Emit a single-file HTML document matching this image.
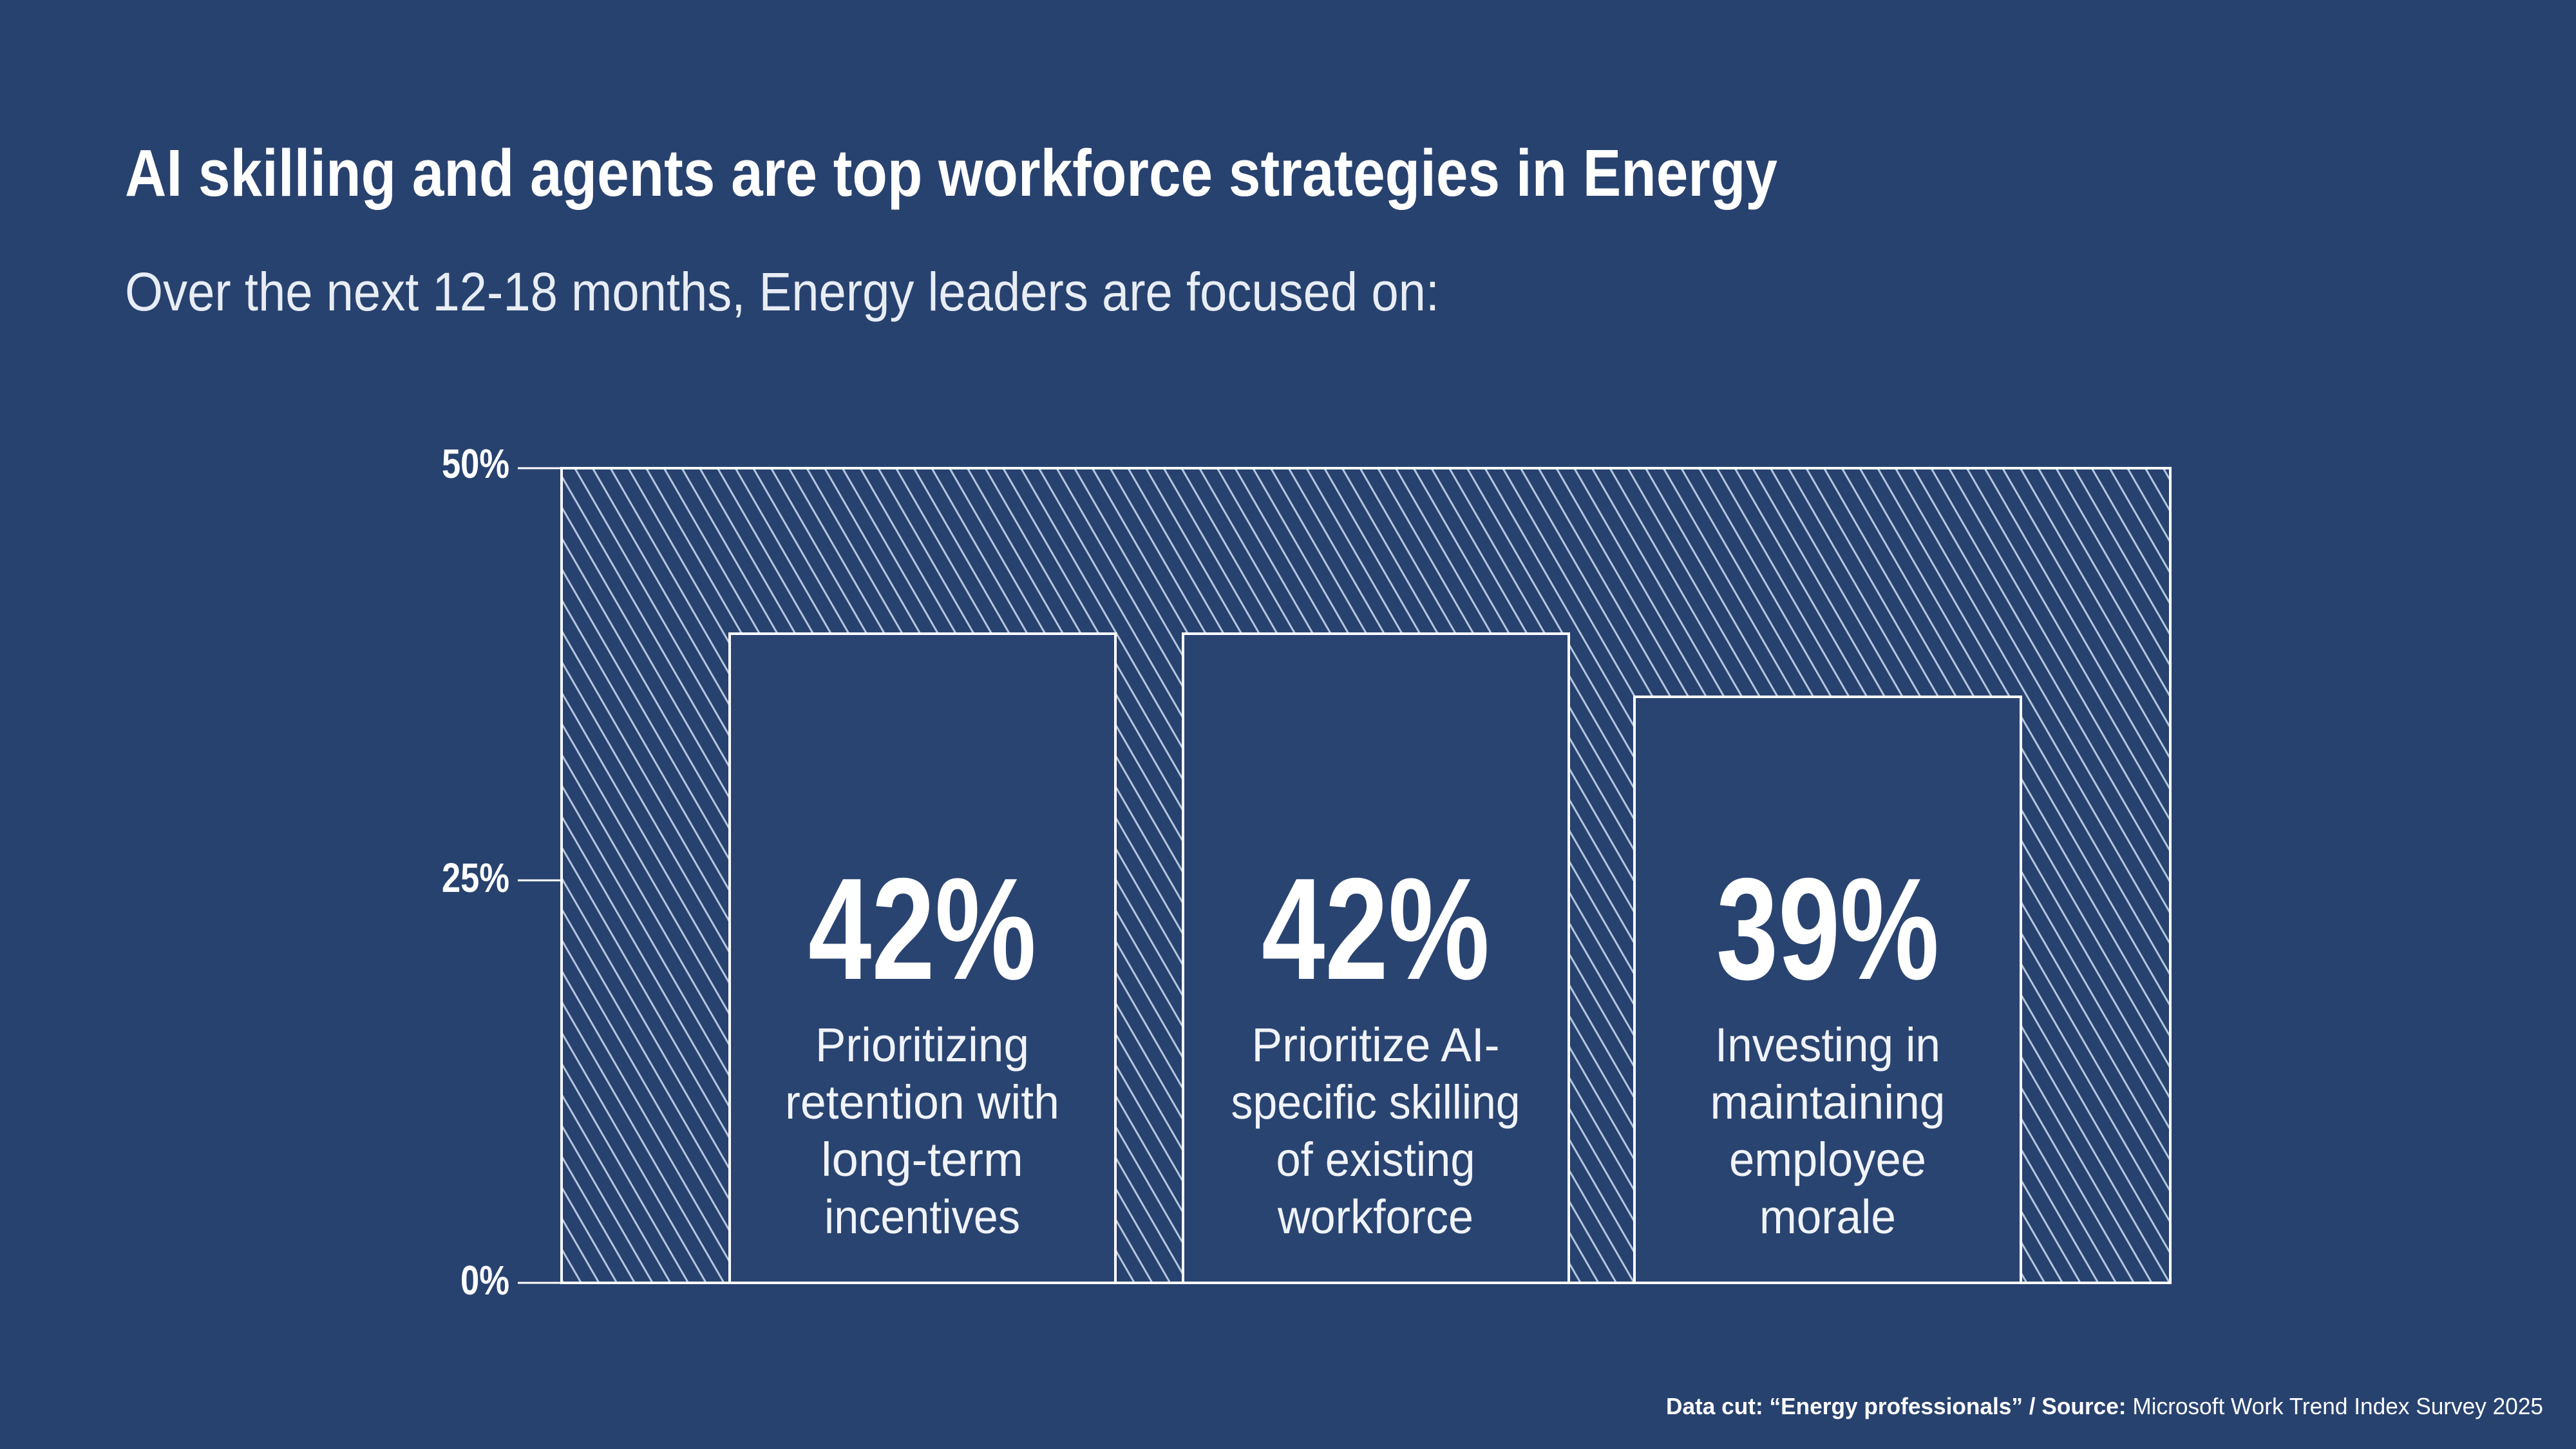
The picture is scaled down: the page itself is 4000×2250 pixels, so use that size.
<!DOCTYPE html>
<html><head><meta charset="utf-8"><style>
html,body{margin:0;padding:0;background:#28426f;}
svg{display:block}
</style></head><body>
<svg width="4000" height="2250" viewBox="0 0 4000 2250" xmlns="http://www.w3.org/2000/svg">
<defs>
<pattern id="h" width="24" height="24" patternUnits="userSpaceOnUse" patternTransform="rotate(-30)">
<rect x="0" y="0" width="3" height="24" fill="#b4c4dc"/>
</pattern>
</defs>
<rect width="4000" height="2250" fill="#28426f"/>
<g fill="#fff" font-family="Liberation Sans, sans-serif">
<text x="194" y="304" font-size="103" font-weight="bold" textLength="2566" lengthAdjust="spacingAndGlyphs">AI skilling and agents are top workforce strategies in Energy</text>
<text x="194" y="482" font-size="84" textLength="2041" lengthAdjust="spacingAndGlyphs" fill="#e8edf5">Over the next 12-18 months, Energy leaders are focused on:</text>
<g font-size="64" font-weight="bold" text-anchor="end">
<text x="791" y="742" textLength="105" lengthAdjust="spacingAndGlyphs">50%</text>
<text x="791" y="1385" textLength="105" lengthAdjust="spacingAndGlyphs">25%</text>
<text x="791" y="2010" textLength="76" lengthAdjust="spacingAndGlyphs">0%</text>
</g>
</g>
<g stroke="#fff" stroke-width="3">
<line x1="804" y1="727" x2="872" y2="727"/>
<line x1="804" y1="1367" x2="872" y2="1367"/>
<line x1="804" y1="1992" x2="872" y2="1992"/>
</g>
<rect x="872" y="727" width="2498" height="1265" fill="url(#h)" stroke="#fff" stroke-width="4"/>
<g fill="#2a4471" stroke="#fff" stroke-width="4">
<rect x="1133" y="984" width="599" height="1008"/>
<rect x="1837" y="984" width="599" height="1008"/>
<rect x="2538" y="1082" width="600" height="910"/>
</g>
<g fill="#fff" font-family="Liberation Sans, sans-serif" text-anchor="middle">
<g font-size="225" font-weight="bold">
<text x="1432" y="1520" textLength="354" lengthAdjust="spacingAndGlyphs">42%</text>
<text x="2136" y="1520" textLength="354" lengthAdjust="spacingAndGlyphs">42%</text>
<text x="2838" y="1520" textLength="346" lengthAdjust="spacingAndGlyphs">39%</text>
</g>
<g font-size="74" fill="#f0f3f8">
<text x="1432" y="1648" textLength="332" lengthAdjust="spacingAndGlyphs">Prioritizing</text>
<text x="1432" y="1737" textLength="426" lengthAdjust="spacingAndGlyphs">retention with</text>
<text x="1432" y="1826" textLength="314" lengthAdjust="spacingAndGlyphs">long-term</text>
<text x="1432" y="1915" textLength="304" lengthAdjust="spacingAndGlyphs">incentives</text>
<text x="2136" y="1648" textLength="385" lengthAdjust="spacingAndGlyphs">Prioritize AI-</text>
<text x="2136" y="1737" textLength="449" lengthAdjust="spacingAndGlyphs">specific skilling</text>
<text x="2136" y="1826" textLength="309" lengthAdjust="spacingAndGlyphs">of existing</text>
<text x="2136" y="1915" textLength="304" lengthAdjust="spacingAndGlyphs">workforce</text>
<text x="2838" y="1648" textLength="350" lengthAdjust="spacingAndGlyphs">Investing in</text>
<text x="2838" y="1737" textLength="365" lengthAdjust="spacingAndGlyphs">maintaining</text>
<text x="2838" y="1826" textLength="306" lengthAdjust="spacingAndGlyphs">employee</text>
<text x="2838" y="1915" textLength="212" lengthAdjust="spacingAndGlyphs">morale</text>
</g>
</g>
<text x="3949" y="2196" font-family="Liberation Sans, sans-serif" font-size="36" fill="#fff" text-anchor="end" textLength="1362" lengthAdjust="spacingAndGlyphs"><tspan font-weight="bold">Data cut: “Energy professionals” / Source:</tspan> Microsoft Work Trend Index Survey 2025</text>
</svg>
</body></html>
